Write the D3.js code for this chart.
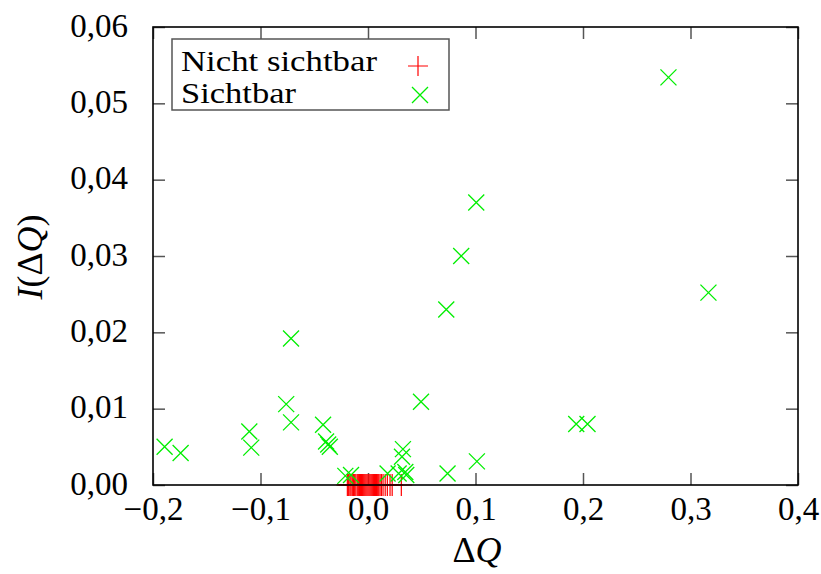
<!DOCTYPE html>
<html>
<head>
<meta charset="utf-8">
<script src="https://cdn.jsdelivr.net/npm/d3@7"></script>
<style>
  html, body { margin: 0; padding: 0; background: #fff; }
  svg { display: block; }
  text { font-family: "Liberation Serif", "Times New Roman", serif; fill: #000; }
</style>
</head>
<body>
<svg id="chart" width="821" height="574"></svg>
<script>
// ---------------- data ----------------
const seriesNames = ["Nicht sichtbar", "Sichtbar"];

// "Nicht sichtbar" (red +), all at I = 0
const hiddenX = [-0.0192, -0.0180, -0.0168, -0.0158, -0.0146, -0.0135, -0.0124, -0.0113,
  -0.0100, -0.0090, -0.0080, -0.0070, -0.0060, -0.0050, -0.0040, -0.0030, -0.0020, -0.0010,
  0.0000, 0.0010, 0.0020, 0.0030, 0.0040, 0.0050, 0.0060, 0.0070, 0.0080, 0.0090,
  0.0100, 0.0112, 0.0125, 0.0140, 0.0160, 0.0180, 0.0205, 0.0225, 0.0310];
const hiddenY = [0, 0, 0, 0, 0, 0, 0, 0, 0, 0, 0, 0, 0, 0, 0, 0, 0, 0,
  0, 0, 0, 0, 0, 0, 0, 0, 0, 0, 0, 0, 0, 0, 0, 0, 0, 0, 0];

// "Sichtbar" (green x)
const visibleX = [-0.1892, -0.1743, -0.1104, -0.1086, -0.0761, -0.0716, -0.0716,
  -0.0418, -0.0390, -0.0370, -0.0355, -0.0211, -0.0158, 0.0182, 0.0285, 0.0316,
  0.0325, 0.0347, 0.0356, 0.0493, 0.0728, 0.0740, 0.0867, 0.1007, 0.1013,
  0.1937, 0.2042, 0.2795, 0.3167];
const visibleY = [0.0050, 0.0042, 0.0070, 0.0049, 0.0106, 0.0082, 0.0192,
  0.0079, 0.0057, 0.0053, 0.0050, 0.0012, 0.0013, 0.0015, 0.0015, 0.0037,
  0.0047, 0.0017, 0.0013, 0.0109, 0.0230, 0.0015, 0.0300, 0.0370, 0.0031,
  0.0080, 0.0080, 0.0534, 0.0252];

const xTicks = [-0.2, -0.1, 0.0, 0.1, 0.2, 0.3, 0.4];
const xTickLabels = ["\u22120,2", "\u22120,1", "0,0", "0,1", "0,2", "0,3", "0,4"];
const yTicks = [0.00, 0.01, 0.02, 0.03, 0.04, 0.05, 0.06];
const yTickLabels = ["0,00", "0,01", "0,02", "0,03", "0,04", "0,05", "0,06"];

// ---------------- layout ----------------
const svg = d3.select("#chart");
const L = 153, R = 798, T = 27, B = 485;
const x = d3.scaleLinear().domain([-0.2, 0.4]).range([L, R]);
const y = d3.scaleLinear().domain([0, 0.06]).range([B, T]);

const tickLen = 12;
const tickColor = "#555";
const fs = 33;

const xAxisB = d3.axisBottom(x).tickValues(xTicks).tickSizeInner(-tickLen).tickSizeOuter(0)
  .tickFormat((d, i) => xTickLabels[i]);
const xAxisT = d3.axisTop(x).tickValues(xTicks).tickSizeInner(-tickLen).tickSizeOuter(0)
  .tickFormat(() => "");
const yAxisL = d3.axisLeft(y).tickValues(yTicks).tickSizeInner(-tickLen).tickSizeOuter(0)
  .tickFormat((d, i) => yTickLabels[i]);
const yAxisR = d3.axisRight(y).tickValues(yTicks).tickSizeInner(-tickLen).tickSizeOuter(0)
  .tickFormat(() => "");

function styleAxis(g) {
  g.select(".domain").remove();
  g.selectAll(".tick line").attr("stroke", tickColor).attr("stroke-width", 1.5);
  g.selectAll(".tick text").attr("font-family", "Liberation Serif").attr("font-size", fs).attr("fill", "#000");
}

const axB = svg.append("g").attr("transform", `translate(0,${B})`).call(xAxisB).call(styleAxis);
axB.selectAll(".tick text").attr("y", 0).attr("dy", null).attr("transform", "translate(0,35)");
svg.append("g").attr("transform", `translate(0,${T})`).call(xAxisT).call(styleAxis);
const axL = svg.append("g").attr("transform", `translate(${L},0)`).call(yAxisL).call(styleAxis);
axL.selectAll(".tick text").attr("x", -25).attr("dy", "0.28em");
svg.append("g").attr("transform", `translate(${R},0)`).call(yAxisR).call(styleAxis);

// ---------------- marks ----------------
const plusH = 11, crossH = 8;
const hidden = hiddenX.map((v, i) => ({x: v, y: hiddenY[i]}));
const visible = visibleX.map((v, i) => ({x: v, y: visibleY[i]}));

function plusPath(cx, cy, h) { return `M${cx - h},${cy}H${cx + h}M${cx},${cy - h}V${cy + h}`; }
function crossPath(cx, cy, h) { return `M${cx - h},${cy - h}L${cx + h},${cy + h}M${cx - h},${cy + h}L${cx + h},${cy - h}`; }

svg.append("g").selectAll("path").data(hidden).join("path")
  .attr("d", d => plusPath(x(d.x), y(d.y), plusH))
  .attr("stroke", "#ff0000").attr("stroke-width", 1.2).attr("fill", "none");

svg.append("g").selectAll("path").data(visible).join("path")
  .attr("d", d => crossPath(x(d.x), y(d.y), crossH))
  .attr("stroke", "#00ee00").attr("stroke-width", 1.3).attr("fill", "none");

// frame
svg.append("rect").attr("x", L).attr("y", T).attr("width", R - L).attr("height", B - T)
  .attr("fill", "none").attr("stroke", "#000").attr("stroke-width", 1.6);

// ---------------- legend ----------------
const lg = svg.append("g");
lg.append("rect").attr("x", 172).attr("y", 39).attr("width", 277).attr("height", 71)
  .attr("fill", "#fff").attr("stroke", "#555").attr("stroke-width", 1.5);
lg.append("text").attr("x", 181).attr("y", 71).attr("font-size", 28.5)
  .attr("textLength", 196).attr("lengthAdjust", "spacingAndGlyphs").text(seriesNames[0]);
lg.append("text").attr("x", 181).attr("y", 103).attr("font-size", 28.5)
  .attr("textLength", 115).attr("lengthAdjust", "spacingAndGlyphs").text(seriesNames[1]);
lg.append("path").attr("d", plusPath(418, 66, 10)).attr("stroke", "#ff0000").attr("stroke-width", 1.2).attr("fill", "none");
lg.append("path").attr("d", crossPath(420, 95, 8)).attr("stroke", "#00ee00").attr("stroke-width", 1.3).attr("fill", "none");

// ---------------- axis titles ----------------
const xt = svg.append("text").attr("x", 477).attr("y", 562).attr("text-anchor", "middle").attr("font-size", 36);
xt.append("tspan").text("\u0394");
xt.append("tspan").attr("font-style", "italic").text("Q");

const yt = svg.append("text").attr("transform", "translate(42,257) rotate(-90)")
  .attr("text-anchor", "middle").attr("font-size", 36);
yt.append("tspan").attr("font-style", "italic").text("I");
yt.append("tspan").text("(\u0394");
yt.append("tspan").attr("font-style", "italic").text("Q");
yt.append("tspan").text(")");
</script>
</body>
</html>
